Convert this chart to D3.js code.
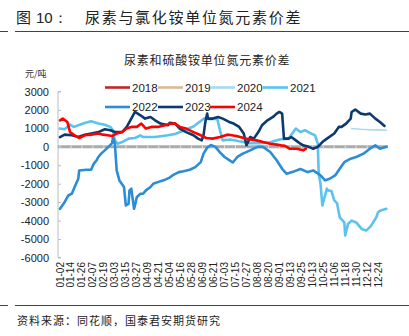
<!DOCTYPE html>
<html><head><meta charset="utf-8">
<script src="https://cdn.jsdelivr.net/npm/d3@7"></script>
<style>
html,body{margin:0;padding:0;background:#fff;}
svg{display:block;}
</style></head>
<body>
<svg id="c" width="409" height="336"></svg>
<script>
// ---- data (x = position index from 01-02, one tick label every 12 units) ----
const xTickLabels = ["01-02","01-14","01-26","02-07","02-19","03-03","03-15","03-27","04-09","04-21","05-04","05-16","05-28","06-09","06-21","07-03","07-15","07-27","08-08","08-20","09-01","09-13","09-25","10-13","10-25","11-06","11-18","11-30","12-12","12-24"];
const yTicks = [3000,2000,1000,0,-1000,-2000,-3000,-4000,-5000,-6000];
const years = ["2018","2019","2020","2021","2022","2023","2024"];

const s2018 = [];
const s2019 = [];
const s2020 = [[319,990],[329,950],[339,930],[350,920],[357,900]];
const s2021 = [[0,990],[5,950],[11,1200],[15,1080],[20,1170],[27,1290],[34,1390],[42,1260],[49,1200],[55,1080],[58,900],[60,350],[63,170],[68,260],[75,445],[82,480],[88,625],[91,530],[104,530],[112,590],[118,625],[126,700],[136,900],[146,1100],[154,1400],[158,1550],[164,1500],[172,1530],[175,900],[178,350],[186,400],[196,300],[208,200],[219,200],[230,250],[240,400],[250,445],[258,990],[263,800],[268,900],[275,720],[279,625],[282,170],[283,-1460],[285,-2000],[287,-3180],[292,-2270],[293,-2360],[297,-2400],[300,-2900],[303,-3050],[306,-3820],[311,-4090],[312,-4800],[315,-4180],[319,-4000],[324,-4100],[330,-4450],[335,-4540],[340,-4300],[346,-3820],[348,-3540],[351,-3450],[357,-3360]];
const s2022 = [[0,-3360],[5,-3000],[9,-2640],[13,-2540],[16,-2180],[20,-1730],[21,-1280],[29,-1240],[34,-1240],[37,-910],[40,-730],[42,-550],[45,-370],[49,-190],[53,0],[57,200],[58,530],[60,170],[62,-1280],[65,-1820],[70,-2180],[72,-3180],[75,-3090],[76,-2360],[78,-2270],[81,-3360],[82,-3180],[84,-2730],[88,-2540],[91,-2540],[94,-2360],[99,-2180],[102,-2000],[110,-1860],[115,-1780],[120,-1670],[123,-1550],[130,-1370],[135,-1320],[142,-1240],[148,-1100],[154,-830],[157,-370],[161,-50],[165,100],[170,0],[175,-300],[180,-550],[186,-750],[189,-850],[194,-550],[200,-370],[208,-190],[216,0],[222,0],[230,-280],[237,-730],[243,-1190],[248,-1460],[254,-1370],[263,-1200],[271,-1370],[277,-1280],[285,-1550],[290,-1820],[295,-1730],[301,-1550],[306,-1190],[311,-830],[318,-640],[324,-550],[332,-370],[339,-100],[345,80],[350,-100],[357,0]];
const s2023 = [[0,530],[5,660],[13,625],[20,530],[27,660],[34,720],[42,800],[49,950],[55,900],[60,800],[68,800],[73,1080],[78,1530],[82,1890],[88,1710],[93,1530],[99,1620],[104,1440],[110,1260],[118,1170],[120,1300],[126,1260],[131,990],[138,800],[146,625],[151,445],[155,350],[157,625],[159,1350],[161,1800],[162,1530],[167,1530],[173,1620],[178,1530],[185,1350],[190,1260],[196,1080],[201,720],[204,80],[208,530],[212,445],[217,800],[221,1170],[227,1440],[233,1620],[237,1800],[240,1890],[243,1800],[245,445],[250,445],[253,530],[258,350],[263,170],[266,80],[272,0],[277,-100],[282,0],[287,260],[292,445],[300,720],[305,1080],[308,1080],[313,1260],[318,1530],[319,1890],[323,2020],[329,1800],[334,1750],[339,1800],[345,1530],[350,1350],[355,1130]];
const s2024 = [[0,1440],[3,1530],[8,1350],[11,800],[16,625],[21,480],[27,625],[34,660],[42,720],[47,660],[52,625],[57,590],[62,720],[68,800],[73,990],[78,1080],[84,1080],[89,1260],[94,990],[100,1080],[107,1080],[115,1170],[122,1260],[126,1260],[131,1080],[138,990],[146,800],[154,625],[160,480],[167,445],[175,530],[183,660],[188,625],[193,590],[201,480],[208,400],[215,350],[222,260],[230,170],[237,120],[242,80],[246,60],[251,-100],[259,-100],[266,-190],[269,-100]];

const colors = {"2018":"#C0272D","2019":"#D8B995","2020":"#A9D9F2","2021":"#5CC2EE","2022":"#2B8DD6","2023":"#0C3A6D","2024":"#FF0000"};
const seriesData = {"2018":s2018,"2019":s2019,"2020":s2020,"2021":s2021,"2022":s2022,"2023":s2023,"2024":s2024};

// ---- drawing ----
const svg = d3.select("#c");
const x = d3.scaleLinear().domain([0,357.5]).range([60,386.8]);
const y = d3.scaleLinear().domain([-6000,3000]).range([257.5,91.5]);
const cjk = "'Noto Sans CJK SC','Noto Sans',sans-serif";
const lat = "'Liberation Sans',Arial,sans-serif";

// title
svg.append("text").attr("x",16).attr("y",23).attr("font-family",cjk).attr("font-size",15).attr("fill","#222").text("图");
svg.append("text").attr("x",36).attr("y",23).attr("font-family",lat).attr("font-size",15).attr("fill","#222").text("10：");
svg.append("text").attr("x",85).attr("y",23).attr("font-family",cjk).attr("font-size",15).attr("letter-spacing",1.7).attr("fill","#222").text("尿素与氯化铵单位氮元素价差");
svg.append("line").attr("x1",0).attr("x2",8).attr("y1",31.5).attr("y2",31.5).attr("stroke","#444");
svg.append("line").attr("x1",15).attr("x2",409).attr("y1",31.5).attr("y2",31.5).attr("stroke","#444");

// subtitle
svg.append("text").attr("x",124).attr("y",65).attr("font-family",cjk).attr("font-size",12).attr("letter-spacing",0.8).attr("fill","#222").text("尿素和硫酸铵单位氮元素价差");
svg.append("text").attr("x",25).attr("y",77).attr("font-family",cjk).attr("font-size",9).attr("fill","#333").text("元/吨");

// y axis
const yAxis = d3.axisRight(y).tickValues(yTicks).tickSize(3).tickFormat("");
const ya = svg.append("g").attr("transform","translate(58,0)").call(yAxis);
ya.select(".domain").attr("stroke","#BDBDBD").attr("d","M3,"+y(3000)+"H0V"+y(-6000)+"H3");
ya.selectAll(".tick line").attr("stroke","#BDBDBD");
svg.append("g").selectAll("text").data(yTicks).join("text")
  .attr("x",49).attr("y",d=>y(d)+4).attr("text-anchor","end")
  .attr("font-family",lat).attr("font-size",11).attr("fill","#222").text(d=>d);

// zero line
svg.append("line").attr("x1",58).attr("x2",388).attr("y1",y(0)).attr("y2",y(0)).attr("stroke","#ABABAB").attr("stroke-width",3);
svg.append("g").selectAll("line").data(xTickLabels).join("line")
  .attr("x1",(d,i)=>x(i*12)).attr("x2",(d,i)=>x(i*12))
  .attr("y1",y(0)-1.5).attr("y2",y(0)+1.5).attr("stroke","#E2E2E2").attr("stroke-width",1);

// x labels
svg.append("g").selectAll("text").data(xTickLabels).join("text")
  .attr("transform",(d,i)=>"translate("+(x(i*12)+3.5)+",262) rotate(-90)")
  .attr("text-anchor","end").attr("font-family",lat).attr("font-size",10).attr("fill","#222").text(d=>d);

// lines
const line = d3.line().x(d=>x(d[0])).y(d=>y(d[1]));
years.forEach(yr=>{
  const data = seriesData[yr];
  if(!data.length) return;
  svg.append("path").datum(data).attr("d",line).attr("fill","none")
    .attr("stroke",colors[yr]).attr("stroke-width",yr==="2020"?1.6:2.6)
    .attr("stroke-linejoin","round").attr("stroke-linecap","round");
});

// legend
const legCols = [105,158,210,263];
const legend = svg.append("g");
years.forEach((yr,i)=>{
  const row = i<4?0:1, col = i<4?i:i-4;
  const lx = legCols[col], ly = row===0?87.5:107;
  legend.append("line").attr("x1",lx).attr("x2",lx+25).attr("y1",ly).attr("y2",ly).attr("stroke",colors[yr]).attr("stroke-width",2.6);
  legend.append("text").attr("x",lx+27).attr("y",ly+4).attr("font-family",lat).attr("font-size",11.5).attr("fill","#222").text(yr);
});

// bottom rule + source
svg.append("line").attr("x1",0).attr("x2",8).attr("y1",305.5).attr("y2",305.5).attr("stroke","#444");
svg.append("line").attr("x1",15).attr("x2",409).attr("y1",305.5).attr("y2",305.5).attr("stroke","#444");
svg.append("text").attr("x",17).attr("y",325).attr("font-family",cjk).attr("font-size",11).attr("letter-spacing",1).attr("fill","#222").text("资料来源：同花顺，国泰君安期货研究");
</script>
</body></html>
